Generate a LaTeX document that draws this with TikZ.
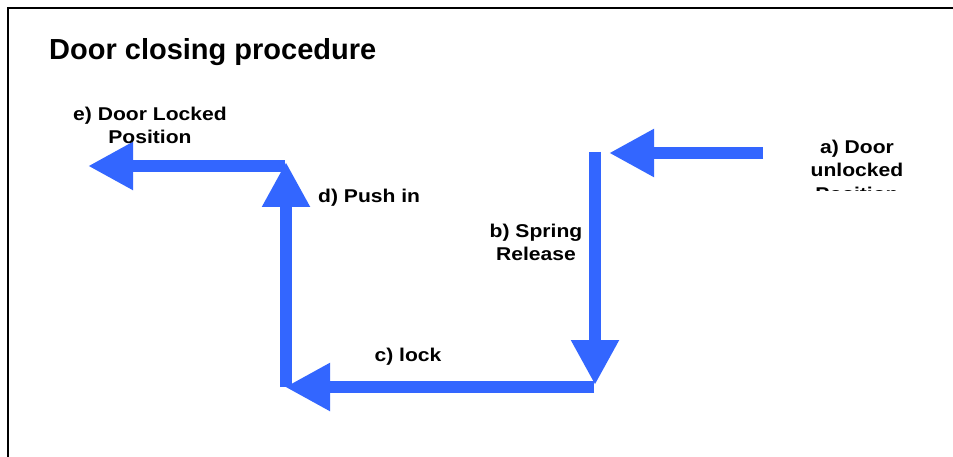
\documentclass[tikz,border=0pt]{standalone}
\usepackage{fontspec}
\setmainfont{Liberation Sans}
\newfontfamily\lblfont{Liberation Sans}[FakeStretch=1.14]
\usetikzlibrary{arrows.meta}
\definecolor{flowblue}{RGB}{51,102,255}
\begin{document}
\begin{tikzpicture}[x=1pt,y=-1pt,
  flow/.style={draw=flowblue,line width=12pt,-{Triangle[length=45pt,width=45pt]}},
  lbl/.style={inner sep=0pt,align=center,font=\lblfont\bfseries\fontsize{18.5}{23.3}\selectfont},
  ttl/.style={inner sep=0pt,font=\bfseries\fontsize{29}{34}\selectfont}]
\useasboundingbox (0,0) rectangle (953,457);
\fill[white] (0,0) rectangle (953,457);
\begin{scope}
\clip (0,0) rectangle (953,457);
\draw[line width=2pt] (8,470) -- (8,8) -- (970,8);
\end{scope}
\node[ttl,anchor=base west] (title) at (49,60) {Door closing procedure};
% arrow end points
\coordinate (a1) at (763,153);
\coordinate (a2) at (609,153);
\coordinate (b1) at (595,152);
\coordinate (b2) at (595,385);
\coordinate (c1) at (594,387);
\coordinate (c2) at (285,387);
\coordinate (d1) at (286,387);
\coordinate (d2) at (286,162);
\coordinate (e1) at (285,166);
\coordinate (e2) at (88,166);
\draw[flow] (a1) -- (a2);
\draw[flow] (b1) -- (b2);
\draw[flow] (c1) -- (c2);
\draw[flow] (d1) -- (d2);
\draw[flow] (e1) -- (e2);
% labels
\begin{scope}
\clip (780,100) rectangle (940,191);
\node[lbl,anchor=north] (la) at (857,140) {a) Door\\unlocked\\Position};
\end{scope}
\node[lbl,anchor=north] (lb) at (536,224) {b) Spring\\Release};
\node[lbl,anchor=north] (lc) at (408,348) {c) lock};
\node[lbl,anchor=north west] (ld) at (318,189) {d) Push in};
\node[lbl,anchor=north] (le) at (150,107) {e) Door Locked\\Position};
\end{tikzpicture}
\end{document}
